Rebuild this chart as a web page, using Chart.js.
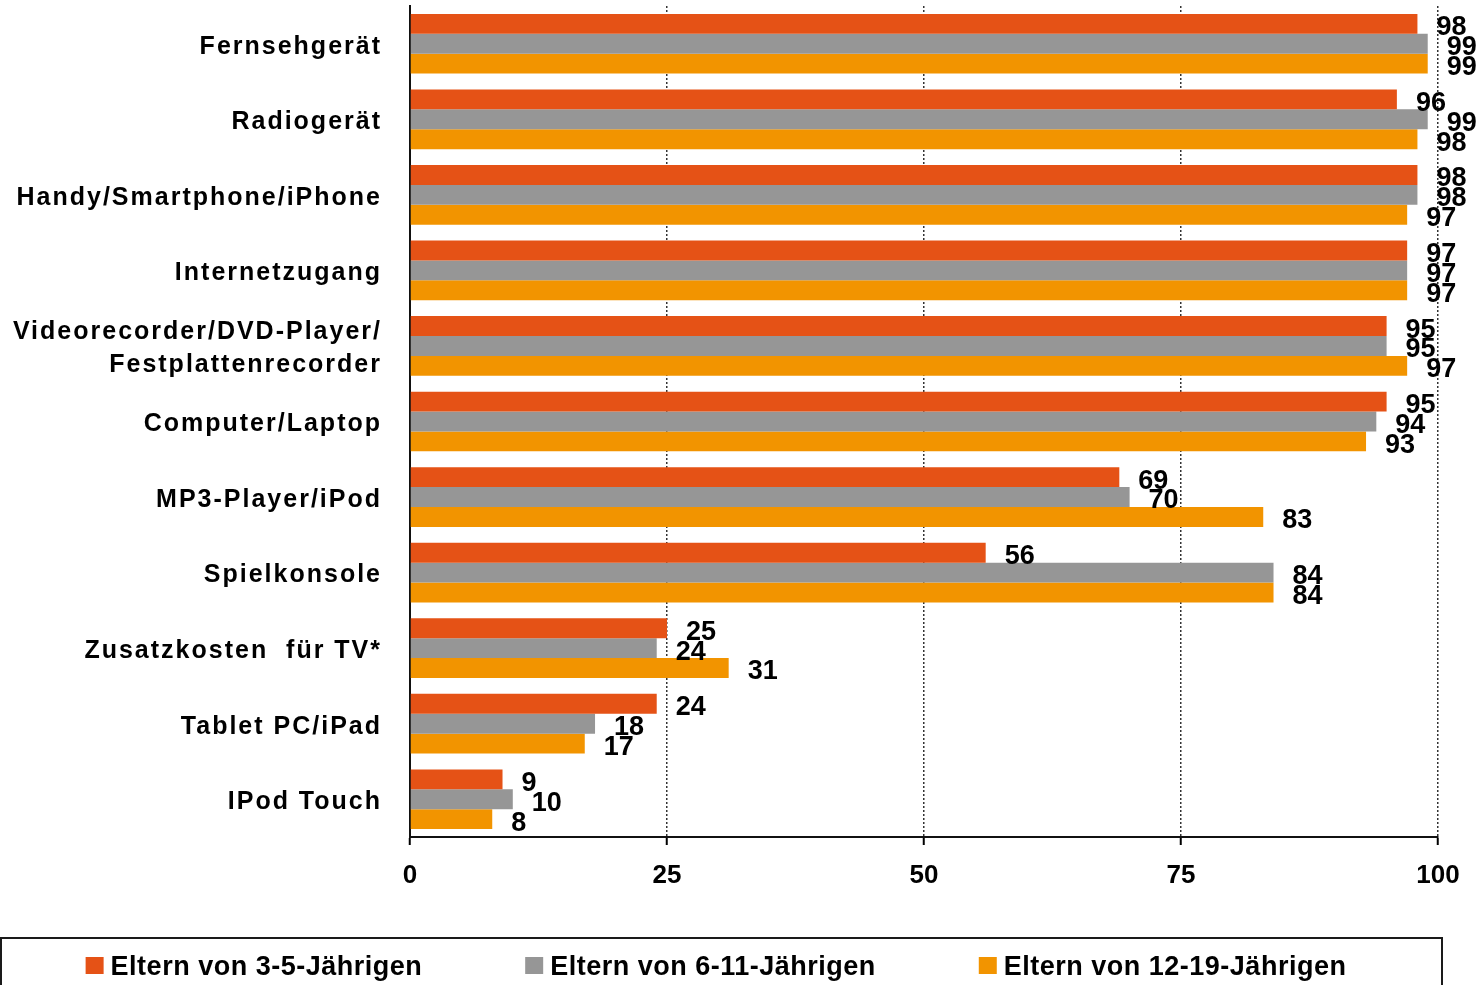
<!DOCTYPE html>
<html lang="de">
<head>
<meta charset="utf-8">
<title>Geräteausstattung der Haushalte</title>
<script src="https://cdn.jsdelivr.net/npm/chart.js@4/dist/chart.umd.min.js"></script>
<style>
    html, body { margin: 0; padding: 0; background: #fff; }
    #wrap { position: relative; width: 1482px; height: 985px; }
</style>
</head>
<body>
<div id="wrap"><canvas id="chart"></canvas></div>
<script>
// Categories (top to bottom)
const categories = [
    'Fernsehgerät',
    'Radiogerät',
    'Handy/Smartphone/iPhone',
    'Internetzugang',
    ['Videorecorder/DVD-Player/', 'Festplattenrecorder'],
    'Computer/Laptop',
    'MP3-Player/iPod',
    'Spielkonsole',
    'Zusatzkosten  für TV*',
    'Tablet PC/iPad',
    'IPod Touch'
];

// Series values (percent)
const parents3to5 = [98, 96, 98, 97, 95, 95, 69, 56, 25, 24, 9];
const parents6to11 = [99, 99, 98, 97, 95, 94, 70, 84, 24, 18, 10];
const parents12to19 = [99, 98, 97, 97, 97, 93, 83, 84, 31, 17, 8];

// Series names
const seriesNames = ['Eltern von 3-5-Jährigen', 'Eltern von 6-11-Jährigen', 'Eltern von 12-19-Jährigen'];

// Axis ticks
const xTicks = [0, 25, 50, 75, 100];

const FONT = '"Liberation Sans", Arial, sans-serif';

// Letter spacing for the category labels only
const spacingPlugin = {
    id: 'spacing',
    beforeDraw(chart) {
        chart.ctx.letterSpacing = '2px';
    },
    beforeDatasetsDraw(chart) {
        chart.ctx.letterSpacing = '0px';
    }
};

// Value labels next to the bars
const valueLabels = {
    id: 'valueLabels',
    afterDatasetsDraw(chart) {
        const ctx = chart.ctx;
        ctx.save();
        ctx.letterSpacing = '0px';
        ctx.font = 'bold 27px ' + FONT;
        ctx.fillStyle = '#000';
        ctx.textAlign = 'left';
        ctx.textBaseline = 'middle';
        chart.data.datasets.forEach((ds, i) => {
            chart.getDatasetMeta(i).data.forEach((bar, j) => {
                ctx.fillText(String(ds.data[j]), bar.x + 19, bar.y + 4);
            });
        });
        ctx.restore();
    }
};

// Boxed legend below the chart
const boxLegend = {
    id: 'boxLegend',
    afterDraw(chart) {
        const ctx = chart.ctx;
        ctx.save();
        ctx.strokeStyle = '#1a1a1a';
        ctx.lineWidth = 2;
        ctx.strokeRect(1, 938, 1441, 80);

        ctx.font = 'bold 27px ' + FONT;
        ctx.letterSpacing = '0.5px';
        ctx.textAlign = 'left';
        ctx.textBaseline = 'middle';
        const gap = 103;
        const items = chart.data.datasets.map(ds => ({
            label: ds.label,
            color: ds.backgroundColor,
            w: 25 + ctx.measureText(ds.label).width
        }));
        const total = items.reduce((s, it) => s + it.w, 0) + gap * (items.length - 1);
        let x = 716 - total / 2;
        items.forEach(it => {
            ctx.fillStyle = it.color;
            ctx.fillRect(x, 957, 18, 17);
            ctx.fillStyle = '#000';
            ctx.fillText(it.label, x + 25, 968);
            x += it.w + gap;
        });
        ctx.restore();
    }
};

function initChart() {
    const ctx = document.getElementById('chart').getContext('2d');
    new Chart(ctx, {
        type: 'bar',
        data: {
            labels: categories,
            datasets: [
                { label: seriesNames[0], data: parents3to5, backgroundColor: '#E55216' },
                { label: seriesNames[1], data: parents6to11, backgroundColor: '#969696' },
                { label: seriesNames[2], data: parents12to19, backgroundColor: '#F29400' }
            ]
        },
        options: {
            indexAxis: 'y',
            responsive: true,
            maintainAspectRatio: false,
            devicePixelRatio: 1,
            animation: false,
            datasets: {
                bar: {
                    categoryPercentage: 0.79,
                    barPercentage: 1.0
                }
            },
            layout: {
                padding: { top: 6, right: 44, left: 0, bottom: 0 }
            },
            plugins: {
                legend: { display: false },
                tooltip: { enabled: false }
            },
            scales: {
                x: {
                    type: 'linear',
                    min: 0,
                    max: 100,
                    afterBuildTicks(scale) {
                        scale.ticks = xTicks.map(v => ({ value: v }));
                    },
                    afterFit(scale) {
                        scale.height = 148;
                    },
                    ticks: {
                        color: '#000',
                        padding: 15,
                        maxRotation: 0,
                        z: 1,
                        font: { family: FONT, size: 26, weight: 'bold' }
                    },
                    grid: {
                        color: '#333',
                        lineWidth: 1.5,
                        drawTicks: true,
                        tickLength: 8,
                        tickColor: '#000',
                        tickWidth: 2,
                        tickBorderDash: []
                    },
                    // in Chart.js v4 border.dash styles the grid lines
                    border: { display: true, color: '#111', width: 2, dash: [2, 2] }
                },
                y: {
                    type: 'category',
                    afterFit(scale) {
                        scale.width = 410;
                        scale.paddingTop = 0;
                        scale.paddingBottom = 0;
                    },
                    ticks: {
                        color: '#000',
                        padding: 28,
                        labelOffset: 3,
                        autoSkip: false,
                        font: { family: FONT, size: 25, weight: 'bold', lineHeight: 1.32 }
                    },
                    grid: { display: false, drawTicks: false },
                    border: { display: true, color: '#111', width: 2 }
                }
            }
        },
        plugins: [spacingPlugin, valueLabels, boxLegend]
    });
}

document.addEventListener('DOMContentLoaded', initChart);
</script>
</body>
</html>
